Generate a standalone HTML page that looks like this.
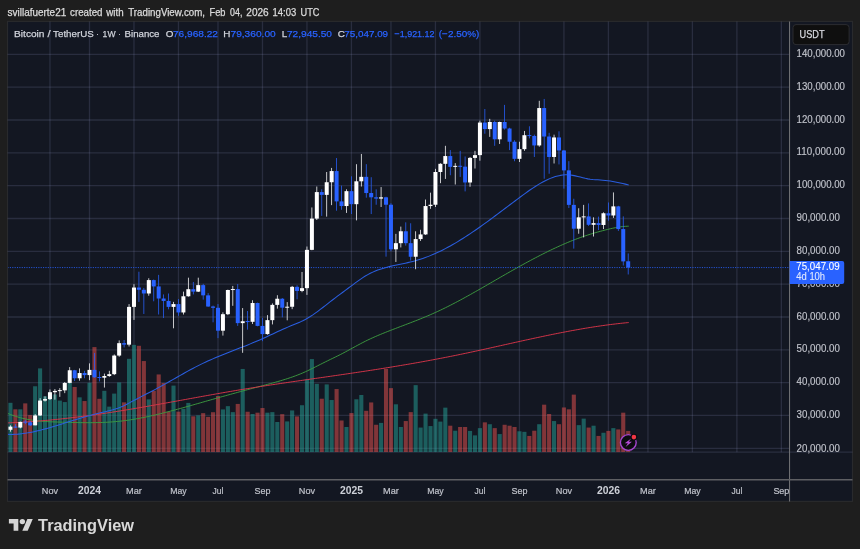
<!DOCTYPE html>
<html><head><meta charset="utf-8"><title>BTCUSDT</title>
<style>html,body{margin:0;padding:0;background:#1e1e1e;}body{width:860px;height:549px;overflow:hidden;font-family:"Liberation Sans",sans-serif;}</style></head>
<body>
<svg width="860" height="549" viewBox="0 0 860 549" style="display:block;will-change:transform;font-family:'Liberation Sans',sans-serif">
<rect x="0" y="0" width="860" height="549" fill="#1e1e1e"/>
<rect x="7.5" y="21.4" width="845.0" height="480.0" fill="#131722" stroke="#292a2d" stroke-width="1.15"/>
<g stroke="rgb(150,155,200)" stroke-opacity="0.175" stroke-width="1.3">
<line x1="49.96" y1="21.4" x2="49.96" y2="452.2"/>
<line x1="89.50" y1="21.4" x2="89.50" y2="452.2"/>
<line x1="133.98" y1="21.4" x2="133.98" y2="452.2"/>
<line x1="178.46" y1="21.4" x2="178.46" y2="452.2"/>
<line x1="217.99" y1="21.4" x2="217.99" y2="452.2"/>
<line x1="262.47" y1="21.4" x2="262.47" y2="452.2"/>
<line x1="306.95" y1="21.4" x2="306.95" y2="452.2"/>
<line x1="351.43" y1="21.4" x2="351.43" y2="452.2"/>
<line x1="390.96" y1="21.4" x2="390.96" y2="452.2"/>
<line x1="435.44" y1="21.4" x2="435.44" y2="452.2"/>
<line x1="479.92" y1="21.4" x2="479.92" y2="452.2"/>
<line x1="519.45" y1="21.4" x2="519.45" y2="452.2"/>
<line x1="563.93" y1="21.4" x2="563.93" y2="452.2"/>
<line x1="608.41" y1="21.4" x2="608.41" y2="452.2"/>
<line x1="647.95" y1="21.4" x2="647.95" y2="452.2"/>
<line x1="692.42" y1="21.4" x2="692.42" y2="452.2"/>
<line x1="736.90" y1="21.4" x2="736.90" y2="452.2"/>
<line x1="781.38" y1="21.4" x2="781.38" y2="452.2"/>
<line x1="7.5" y1="448.30" x2="789.7" y2="448.30"/>
<line x1="7.5" y1="415.47" x2="789.7" y2="415.47"/>
<line x1="7.5" y1="382.64" x2="789.7" y2="382.64"/>
<line x1="7.5" y1="349.81" x2="789.7" y2="349.81"/>
<line x1="7.5" y1="316.98" x2="789.7" y2="316.98"/>
<line x1="7.5" y1="284.15" x2="789.7" y2="284.15"/>
<line x1="7.5" y1="251.32" x2="789.7" y2="251.32"/>
<line x1="7.5" y1="218.49" x2="789.7" y2="218.49"/>
<line x1="7.5" y1="185.66" x2="789.7" y2="185.66"/>
<line x1="7.5" y1="152.83" x2="789.7" y2="152.83"/>
<line x1="7.5" y1="120.00" x2="789.7" y2="120.00"/>
<line x1="7.5" y1="87.17" x2="789.7" y2="87.17"/>
<line x1="7.5" y1="54.34" x2="789.7" y2="54.34"/>
<line x1="7.5" y1="452.2" x2="852.5" y2="452.2"/>
</g>
<clipPath id="cc"><rect x="8.1" y="22" width="781.6" height="430.2"/></clipPath>
<g clip-path="url(#cc)">
<g>
<rect x="8.38" y="402.81" width="4.1" height="49.29" fill="rgba(38,166,154,0.5)"/>
<rect x="13.32" y="409.33" width="4.1" height="42.77" fill="rgba(239,83,80,0.5)"/>
<rect x="18.26" y="409.33" width="4.1" height="42.77" fill="rgba(38,166,154,0.5)"/>
<rect x="23.20" y="403.37" width="4.1" height="48.73" fill="rgba(239,83,80,0.5)"/>
<rect x="28.15" y="415.09" width="4.1" height="37.01" fill="rgba(239,83,80,0.5)"/>
<rect x="33.09" y="386.26" width="4.1" height="65.84" fill="rgba(38,166,154,0.5)"/>
<rect x="38.03" y="368.40" width="4.1" height="83.70" fill="rgba(38,166,154,0.5)"/>
<rect x="42.97" y="396.30" width="4.1" height="55.80" fill="rgba(38,166,154,0.5)"/>
<rect x="47.91" y="396.86" width="4.1" height="55.24" fill="rgba(38,166,154,0.5)"/>
<rect x="52.86" y="394.44" width="4.1" height="57.66" fill="rgba(38,166,154,0.5)"/>
<rect x="57.80" y="400.58" width="4.1" height="51.52" fill="rgba(38,166,154,0.5)"/>
<rect x="62.74" y="402.07" width="4.1" height="50.03" fill="rgba(38,166,154,0.5)"/>
<rect x="67.68" y="382.91" width="4.1" height="69.19" fill="rgba(38,166,154,0.5)"/>
<rect x="72.62" y="387.00" width="4.1" height="65.10" fill="rgba(239,83,80,0.5)"/>
<rect x="77.57" y="397.33" width="4.1" height="54.77" fill="rgba(38,166,154,0.5)"/>
<rect x="82.51" y="401.05" width="4.1" height="51.05" fill="rgba(239,83,80,0.5)"/>
<rect x="87.45" y="382.81" width="4.1" height="69.29" fill="rgba(38,166,154,0.5)"/>
<rect x="92.39" y="347.09" width="4.1" height="105.01" fill="rgba(239,83,80,0.5)"/>
<rect x="97.33" y="398.81" width="4.1" height="53.29" fill="rgba(239,83,80,0.5)"/>
<rect x="102.28" y="390.81" width="4.1" height="61.29" fill="rgba(38,166,154,0.5)"/>
<rect x="107.22" y="406.63" width="4.1" height="45.47" fill="rgba(38,166,154,0.5)"/>
<rect x="112.16" y="393.60" width="4.1" height="58.50" fill="rgba(38,166,154,0.5)"/>
<rect x="117.10" y="382.44" width="4.1" height="69.66" fill="rgba(38,166,154,0.5)"/>
<rect x="122.04" y="402.35" width="4.1" height="49.75" fill="rgba(239,83,80,0.5)"/>
<rect x="126.99" y="358.81" width="4.1" height="93.29" fill="rgba(38,166,154,0.5)"/>
<rect x="131.93" y="344.86" width="4.1" height="107.24" fill="rgba(38,166,154,0.5)"/>
<rect x="136.87" y="345.79" width="4.1" height="106.31" fill="rgba(239,83,80,0.5)"/>
<rect x="141.81" y="361.05" width="4.1" height="91.05" fill="rgba(239,83,80,0.5)"/>
<rect x="146.75" y="399.37" width="4.1" height="52.73" fill="rgba(38,166,154,0.5)"/>
<rect x="151.70" y="390.81" width="4.1" height="61.29" fill="rgba(239,83,80,0.5)"/>
<rect x="156.64" y="374.44" width="4.1" height="77.66" fill="rgba(239,83,80,0.5)"/>
<rect x="161.58" y="383.00" width="4.1" height="69.10" fill="rgba(239,83,80,0.5)"/>
<rect x="166.52" y="411.65" width="4.1" height="40.45" fill="rgba(239,83,80,0.5)"/>
<rect x="171.46" y="385.60" width="4.1" height="66.50" fill="rgba(38,166,154,0.5)"/>
<rect x="176.41" y="411.65" width="4.1" height="40.45" fill="rgba(239,83,80,0.5)"/>
<rect x="181.35" y="408.86" width="4.1" height="43.24" fill="rgba(38,166,154,0.5)"/>
<rect x="186.29" y="402.91" width="4.1" height="49.19" fill="rgba(38,166,154,0.5)"/>
<rect x="191.23" y="416.30" width="4.1" height="35.80" fill="rgba(239,83,80,0.5)"/>
<rect x="196.17" y="415.37" width="4.1" height="36.73" fill="rgba(38,166,154,0.5)"/>
<rect x="201.12" y="413.14" width="4.1" height="38.96" fill="rgba(239,83,80,0.5)"/>
<rect x="206.06" y="416.86" width="4.1" height="35.24" fill="rgba(239,83,80,0.5)"/>
<rect x="211.00" y="412.21" width="4.1" height="39.89" fill="rgba(239,83,80,0.5)"/>
<rect x="215.94" y="396.02" width="4.1" height="56.08" fill="rgba(239,83,80,0.5)"/>
<rect x="220.88" y="409.42" width="4.1" height="42.68" fill="rgba(38,166,154,0.5)"/>
<rect x="225.83" y="406.16" width="4.1" height="45.94" fill="rgba(38,166,154,0.5)"/>
<rect x="230.77" y="412.12" width="4.1" height="39.98" fill="rgba(38,166,154,0.5)"/>
<rect x="235.71" y="403.93" width="4.1" height="48.17" fill="rgba(239,83,80,0.5)"/>
<rect x="240.65" y="368.95" width="4.1" height="83.15" fill="rgba(38,166,154,0.5)"/>
<rect x="245.59" y="411.74" width="4.1" height="40.36" fill="rgba(239,83,80,0.5)"/>
<rect x="250.54" y="413.98" width="4.1" height="38.12" fill="rgba(38,166,154,0.5)"/>
<rect x="255.48" y="412.67" width="4.1" height="39.43" fill="rgba(239,83,80,0.5)"/>
<rect x="260.42" y="408.02" width="4.1" height="44.08" fill="rgba(239,83,80,0.5)"/>
<rect x="265.36" y="412.67" width="4.1" height="39.43" fill="rgba(38,166,154,0.5)"/>
<rect x="270.30" y="412.12" width="4.1" height="39.98" fill="rgba(38,166,154,0.5)"/>
<rect x="275.25" y="421.98" width="4.1" height="30.12" fill="rgba(38,166,154,0.5)"/>
<rect x="280.19" y="414.16" width="4.1" height="37.94" fill="rgba(239,83,80,0.5)"/>
<rect x="285.13" y="421.42" width="4.1" height="30.68" fill="rgba(38,166,154,0.5)"/>
<rect x="290.07" y="410.44" width="4.1" height="41.66" fill="rgba(38,166,154,0.5)"/>
<rect x="295.01" y="416.40" width="4.1" height="35.70" fill="rgba(239,83,80,0.5)"/>
<rect x="299.96" y="405.23" width="4.1" height="46.87" fill="rgba(38,166,154,0.5)"/>
<rect x="304.90" y="379.19" width="4.1" height="72.91" fill="rgba(38,166,154,0.5)"/>
<rect x="309.84" y="359.09" width="4.1" height="93.01" fill="rgba(38,166,154,0.5)"/>
<rect x="314.78" y="383.84" width="4.1" height="68.26" fill="rgba(38,166,154,0.5)"/>
<rect x="319.72" y="398.72" width="4.1" height="53.38" fill="rgba(239,83,80,0.5)"/>
<rect x="324.67" y="384.40" width="4.1" height="67.70" fill="rgba(38,166,154,0.5)"/>
<rect x="329.61" y="400.02" width="4.1" height="52.08" fill="rgba(38,166,154,0.5)"/>
<rect x="334.55" y="389.05" width="4.1" height="63.05" fill="rgba(239,83,80,0.5)"/>
<rect x="339.49" y="420.49" width="4.1" height="31.61" fill="rgba(239,83,80,0.5)"/>
<rect x="344.43" y="427.00" width="4.1" height="25.10" fill="rgba(38,166,154,0.5)"/>
<rect x="349.38" y="413.05" width="4.1" height="39.05" fill="rgba(239,83,80,0.5)"/>
<rect x="354.32" y="399.28" width="4.1" height="52.82" fill="rgba(38,166,154,0.5)"/>
<rect x="359.26" y="395.00" width="4.1" height="57.10" fill="rgba(38,166,154,0.5)"/>
<rect x="364.20" y="410.81" width="4.1" height="41.29" fill="rgba(239,83,80,0.5)"/>
<rect x="369.14" y="402.44" width="4.1" height="49.66" fill="rgba(239,83,80,0.5)"/>
<rect x="374.09" y="424.77" width="4.1" height="27.33" fill="rgba(239,83,80,0.5)"/>
<rect x="379.03" y="422.91" width="4.1" height="29.19" fill="rgba(38,166,154,0.5)"/>
<rect x="383.97" y="368.95" width="4.1" height="83.15" fill="rgba(239,83,80,0.5)"/>
<rect x="388.91" y="388.12" width="4.1" height="63.98" fill="rgba(239,83,80,0.5)"/>
<rect x="393.85" y="404.30" width="4.1" height="47.80" fill="rgba(38,166,154,0.5)"/>
<rect x="398.80" y="427.00" width="4.1" height="25.10" fill="rgba(38,166,154,0.5)"/>
<rect x="403.74" y="421.05" width="4.1" height="31.05" fill="rgba(239,83,80,0.5)"/>
<rect x="408.68" y="412.12" width="4.1" height="39.98" fill="rgba(239,83,80,0.5)"/>
<rect x="413.62" y="385.14" width="4.1" height="66.96" fill="rgba(38,166,154,0.5)"/>
<rect x="418.56" y="427.56" width="4.1" height="24.54" fill="rgba(38,166,154,0.5)"/>
<rect x="423.51" y="413.60" width="4.1" height="38.50" fill="rgba(38,166,154,0.5)"/>
<rect x="428.45" y="426.07" width="4.1" height="26.03" fill="rgba(38,166,154,0.5)"/>
<rect x="433.39" y="418.81" width="4.1" height="33.29" fill="rgba(38,166,154,0.5)"/>
<rect x="438.33" y="421.60" width="4.1" height="30.50" fill="rgba(38,166,154,0.5)"/>
<rect x="443.27" y="407.65" width="4.1" height="44.45" fill="rgba(38,166,154,0.5)"/>
<rect x="448.22" y="425.70" width="4.1" height="26.40" fill="rgba(239,83,80,0.5)"/>
<rect x="453.16" y="430.72" width="4.1" height="21.38" fill="rgba(38,166,154,0.5)"/>
<rect x="458.10" y="427.00" width="4.1" height="25.10" fill="rgba(239,83,80,0.5)"/>
<rect x="463.04" y="427.00" width="4.1" height="25.10" fill="rgba(239,83,80,0.5)"/>
<rect x="467.98" y="430.91" width="4.1" height="21.19" fill="rgba(38,166,154,0.5)"/>
<rect x="472.93" y="435.37" width="4.1" height="16.73" fill="rgba(38,166,154,0.5)"/>
<rect x="477.87" y="428.12" width="4.1" height="23.98" fill="rgba(38,166,154,0.5)"/>
<rect x="482.81" y="422.35" width="4.1" height="29.75" fill="rgba(239,83,80,0.5)"/>
<rect x="487.75" y="424.21" width="4.1" height="27.89" fill="rgba(38,166,154,0.5)"/>
<rect x="492.69" y="428.12" width="4.1" height="23.98" fill="rgba(239,83,80,0.5)"/>
<rect x="497.64" y="434.07" width="4.1" height="18.03" fill="rgba(38,166,154,0.5)"/>
<rect x="502.58" y="424.77" width="4.1" height="27.33" fill="rgba(239,83,80,0.5)"/>
<rect x="507.52" y="425.70" width="4.1" height="26.40" fill="rgba(239,83,80,0.5)"/>
<rect x="512.46" y="427.00" width="4.1" height="25.10" fill="rgba(239,83,80,0.5)"/>
<rect x="517.40" y="431.28" width="4.1" height="20.82" fill="rgba(38,166,154,0.5)"/>
<rect x="522.35" y="431.84" width="4.1" height="20.26" fill="rgba(38,166,154,0.5)"/>
<rect x="527.29" y="435.93" width="4.1" height="16.17" fill="rgba(239,83,80,0.5)"/>
<rect x="532.23" y="430.72" width="4.1" height="21.38" fill="rgba(239,83,80,0.5)"/>
<rect x="537.17" y="424.21" width="4.1" height="27.89" fill="rgba(38,166,154,0.5)"/>
<rect x="542.11" y="404.67" width="4.1" height="47.43" fill="rgba(239,83,80,0.5)"/>
<rect x="547.06" y="413.98" width="4.1" height="38.12" fill="rgba(239,83,80,0.5)"/>
<rect x="552.00" y="421.05" width="4.1" height="31.05" fill="rgba(38,166,154,0.5)"/>
<rect x="556.94" y="424.21" width="4.1" height="27.89" fill="rgba(239,83,80,0.5)"/>
<rect x="561.88" y="407.47" width="4.1" height="44.63" fill="rgba(239,83,80,0.5)"/>
<rect x="566.82" y="409.33" width="4.1" height="42.77" fill="rgba(239,83,80,0.5)"/>
<rect x="571.77" y="394.63" width="4.1" height="57.47" fill="rgba(239,83,80,0.5)"/>
<rect x="576.71" y="425.14" width="4.1" height="26.96" fill="rgba(38,166,154,0.5)"/>
<rect x="581.65" y="418.63" width="4.1" height="33.47" fill="rgba(38,166,154,0.5)"/>
<rect x="586.59" y="427.56" width="4.1" height="24.54" fill="rgba(239,83,80,0.5)"/>
<rect x="591.53" y="425.70" width="4.1" height="26.40" fill="rgba(38,166,154,0.5)"/>
<rect x="596.48" y="435.93" width="4.1" height="16.17" fill="rgba(239,83,80,0.5)"/>
<rect x="601.42" y="432.77" width="4.1" height="19.33" fill="rgba(38,166,154,0.5)"/>
<rect x="606.36" y="430.91" width="4.1" height="21.19" fill="rgba(239,83,80,0.5)"/>
<rect x="611.30" y="428.12" width="4.1" height="23.98" fill="rgba(38,166,154,0.5)"/>
<rect x="616.24" y="429.42" width="4.1" height="22.68" fill="rgba(239,83,80,0.5)"/>
<rect x="621.19" y="412.67" width="4.1" height="39.43" fill="rgba(239,83,80,0.5)"/>
<rect x="626.13" y="430.91" width="4.1" height="21.19" fill="rgba(239,83,80,0.5)"/>
</g>
<path d="M7.8 413.40 L10.3 414.43 L12.8 415.38 L15.3 416.24 L17.8 417.01 L20.3 417.71 L22.8 418.34 L25.3 418.90 L27.8 419.40 L30.3 419.84 L32.8 420.23 L35.3 420.56 L37.8 420.85 L40.3 421.10 L42.8 421.31 L45.3 421.48 L47.8 421.64 L50.3 421.76 L52.8 421.87 L55.3 421.96 L57.8 422.05 L60.3 422.12 L62.8 422.20 L65.3 422.27 L67.8 422.35 L70.3 422.42 L72.8 422.48 L75.3 422.54 L77.8 422.59 L80.3 422.63 L82.8 422.66 L85.3 422.68 L87.8 422.69 L90.3 422.69 L92.8 422.67 L95.3 422.63 L97.8 422.58 L100.3 422.51 L102.8 422.42 L105.3 422.32 L107.8 422.19 L110.3 422.03 L112.8 421.85 L115.3 421.65 L117.8 421.42 L120.3 421.17 L122.8 420.88 L125.3 420.57 L127.8 420.22 L130.3 419.85 L132.8 419.46 L135.3 419.04 L137.8 418.59 L140.3 418.12 L142.8 417.63 L145.3 417.13 L147.8 416.60 L150.3 416.05 L152.8 415.49 L155.3 414.91 L157.8 414.31 L160.3 413.71 L162.8 413.09 L165.3 412.46 L167.8 411.82 L170.3 411.17 L172.8 410.51 L175.3 409.84 L177.8 409.16 L180.3 408.48 L182.8 407.80 L185.3 407.10 L187.8 406.40 L190.3 405.70 L192.8 404.99 L195.3 404.28 L197.8 403.57 L200.3 402.86 L202.8 402.14 L205.3 401.43 L207.8 400.71 L210.3 400.00 L212.8 399.29 L215.3 398.58 L217.8 397.87 L220.3 397.17 L222.8 396.46 L225.3 395.77 L227.8 395.07 L230.3 394.38 L232.8 393.69 L235.3 393.01 L237.8 392.32 L240.3 391.64 L242.8 390.96 L245.3 390.29 L247.8 389.62 L250.3 388.94 L252.8 388.27 L255.3 387.61 L257.8 386.94 L260.3 386.28 L262.8 385.61 L265.3 384.95 L267.8 384.29 L270.3 383.62 L272.8 382.94 L275.3 382.25 L277.8 381.54 L280.3 380.82 L282.8 380.07 L285.3 379.30 L287.8 378.50 L290.3 377.66 L292.8 376.80 L295.3 375.89 L297.8 374.94 L300.3 373.95 L302.8 372.91 L305.3 371.81 L307.8 370.66 L310.3 369.46 L312.8 368.23 L315.3 366.96 L317.8 365.69 L320.3 364.43 L322.8 363.17 L325.3 361.92 L327.8 360.69 L330.3 359.47 L332.8 358.27 L335.3 357.06 L337.8 355.84 L340.3 354.58 L342.8 353.29 L345.3 351.96 L347.8 350.62 L350.3 349.25 L352.8 347.88 L355.3 346.52 L357.8 345.16 L360.3 343.83 L362.8 342.52 L365.3 341.26 L367.8 340.03 L370.3 338.85 L372.8 337.71 L375.3 336.60 L377.8 335.52 L380.3 334.47 L382.8 333.45 L385.3 332.44 L387.8 331.45 L390.3 330.47 L392.8 329.51 L395.3 328.55 L397.8 327.59 L400.3 326.64 L402.8 325.69 L405.3 324.74 L407.8 323.79 L410.3 322.83 L412.8 321.86 L415.3 320.89 L417.8 319.91 L420.3 318.91 L422.8 317.89 L425.3 316.86 L427.8 315.82 L430.3 314.75 L432.8 313.65 L435.3 312.54 L437.8 311.39 L440.3 310.22 L442.8 309.02 L445.3 307.80 L447.8 306.56 L450.3 305.30 L452.8 304.01 L455.3 302.71 L457.8 301.39 L460.3 300.05 L462.8 298.69 L465.3 297.32 L467.8 295.94 L470.3 294.55 L472.8 293.14 L475.3 291.73 L477.8 290.31 L480.3 288.88 L482.8 287.44 L485.3 286.00 L487.8 284.56 L490.3 283.11 L492.8 281.67 L495.3 280.22 L497.8 278.77 L500.3 277.33 L502.8 275.89 L505.3 274.46 L507.8 273.03 L510.3 271.60 L512.8 270.19 L515.3 268.78 L517.8 267.38 L520.3 265.99 L522.8 264.61 L525.3 263.24 L527.8 261.88 L530.3 260.53 L532.8 259.20 L535.3 257.88 L537.8 256.58 L540.3 255.29 L542.8 254.02 L545.3 252.76 L547.8 251.53 L550.3 250.31 L552.8 249.12 L555.3 247.94 L557.8 246.79 L560.3 245.66 L562.8 244.55 L565.3 243.47 L567.8 242.41 L570.3 241.38 L572.8 240.38 L575.3 239.41 L577.8 238.47 L580.3 237.55 L582.8 236.67 L585.3 235.82 L587.8 235.00 L590.3 234.21 L592.8 233.45 L595.3 232.72 L597.8 232.01 L600.3 231.32 L602.8 230.65 L605.3 229.99 L607.8 229.36 L610.3 228.76 L612.8 228.21 L615.3 227.70 L617.8 227.25 L620.3 226.86 L622.8 226.55 L625.3 226.33 L627.8 226.21 L628.7 226.19" fill="none" stroke="#3d9a40" stroke-width="0.95" stroke-linejoin="round"/>
<path d="M7.8 422.92 L10.3 422.81 L12.8 422.69 L15.3 422.57 L17.8 422.44 L20.3 422.30 L22.8 422.15 L25.3 422.00 L27.8 421.83 L30.3 421.66 L32.8 421.48 L35.3 421.29 L37.8 421.10 L40.3 420.90 L42.8 420.69 L45.3 420.47 L47.8 420.25 L50.3 420.01 L52.8 419.77 L55.3 419.53 L57.8 419.28 L60.3 419.02 L62.8 418.75 L65.3 418.48 L67.8 418.20 L70.3 417.91 L72.8 417.61 L75.3 417.31 L77.8 417.01 L80.3 416.69 L82.8 416.38 L85.3 416.05 L87.8 415.72 L90.3 415.38 L92.8 415.04 L95.3 414.69 L97.8 414.33 L100.3 413.97 L102.8 413.60 L105.3 413.23 L107.8 412.85 L110.3 412.47 L112.8 412.09 L115.3 411.69 L117.8 411.30 L120.3 410.90 L122.8 410.49 L125.3 410.08 L127.8 409.67 L130.3 409.26 L132.8 408.84 L135.3 408.41 L137.8 407.99 L140.3 407.56 L142.8 407.13 L145.3 406.69 L147.8 406.25 L150.3 405.81 L152.8 405.37 L155.3 404.93 L157.8 404.48 L160.3 404.03 L162.8 403.58 L165.3 403.13 L167.8 402.68 L170.3 402.23 L172.8 401.78 L175.3 401.32 L177.8 400.87 L180.3 400.41 L182.8 399.95 L185.3 399.50 L187.8 399.04 L190.3 398.59 L192.8 398.13 L195.3 397.68 L197.8 397.22 L200.3 396.77 L202.8 396.32 L205.3 395.87 L207.8 395.42 L210.3 394.97 L212.8 394.53 L215.3 394.08 L217.8 393.64 L220.3 393.20 L222.8 392.76 L225.3 392.33 L227.8 391.90 L230.3 391.47 L232.8 391.04 L235.3 390.62 L237.8 390.20 L240.3 389.78 L242.8 389.37 L245.3 388.96 L247.8 388.55 L250.3 388.15 L252.8 387.75 L255.3 387.35 L257.8 386.96 L260.3 386.57 L262.8 386.18 L265.3 385.80 L267.8 385.42 L270.3 385.03 L272.8 384.66 L275.3 384.28 L277.8 383.91 L280.3 383.53 L282.8 383.16 L285.3 382.79 L287.8 382.43 L290.3 382.06 L292.8 381.70 L295.3 381.33 L297.8 380.97 L300.3 380.61 L302.8 380.25 L305.3 379.89 L307.8 379.53 L310.3 379.17 L312.8 378.81 L315.3 378.45 L317.8 378.10 L320.3 377.74 L322.8 377.38 L325.3 377.02 L327.8 376.66 L330.3 376.30 L332.8 375.94 L335.3 375.58 L337.8 375.22 L340.3 374.85 L342.8 374.49 L345.3 374.13 L347.8 373.76 L350.3 373.39 L352.8 373.02 L355.3 372.65 L357.8 372.28 L360.3 371.90 L362.8 371.53 L365.3 371.15 L367.8 370.77 L370.3 370.38 L372.8 370.00 L375.3 369.61 L377.8 369.22 L380.3 368.82 L382.8 368.43 L385.3 368.03 L387.8 367.62 L390.3 367.22 L392.8 366.81 L395.3 366.40 L397.8 365.99 L400.3 365.57 L402.8 365.15 L405.3 364.72 L407.8 364.30 L410.3 363.87 L412.8 363.43 L415.3 362.99 L417.8 362.55 L420.3 362.11 L422.8 361.66 L425.3 361.20 L427.8 360.75 L430.3 360.29 L432.8 359.82 L435.3 359.35 L437.8 358.88 L440.3 358.40 L442.8 357.92 L445.3 357.43 L447.8 356.94 L450.3 356.44 L452.8 355.94 L455.3 355.44 L457.8 354.93 L460.3 354.41 L462.8 353.89 L465.3 353.37 L467.8 352.84 L470.3 352.31 L472.8 351.77 L475.3 351.23 L477.8 350.69 L480.3 350.15 L482.8 349.60 L485.3 349.05 L487.8 348.50 L490.3 347.95 L492.8 347.39 L495.3 346.84 L497.8 346.28 L500.3 345.72 L502.8 345.17 L505.3 344.61 L507.8 344.05 L510.3 343.49 L512.8 342.94 L515.3 342.38 L517.8 341.83 L520.3 341.27 L522.8 340.72 L525.3 340.17 L527.8 339.63 L530.3 339.08 L532.8 338.54 L535.3 338.00 L537.8 337.47 L540.3 336.94 L542.8 336.41 L545.3 335.89 L547.8 335.37 L550.3 334.85 L552.8 334.34 L555.3 333.84 L557.8 333.34 L560.3 332.85 L562.8 332.36 L565.3 331.88 L567.8 331.40 L570.3 330.93 L572.8 330.47 L575.3 330.02 L577.8 329.57 L580.3 329.13 L582.8 328.70 L585.3 328.28 L587.8 327.87 L590.3 327.46 L592.8 327.07 L595.3 326.68 L597.8 326.30 L600.3 325.94 L602.8 325.58 L605.3 325.23 L607.8 324.90 L610.3 324.57 L612.8 324.26 L615.3 323.96 L617.8 323.67 L620.3 323.39 L622.8 323.12 L625.3 322.87 L627.8 322.63 L628.7 322.55" fill="none" stroke="#d9364a" stroke-width="0.95" stroke-linejoin="round"/>
<path d="M7.8 434.38 L10.3 434.41 L12.8 434.38 L15.3 434.27 L17.8 434.11 L20.3 433.88 L22.8 433.59 L25.3 433.24 L27.8 432.85 L30.3 432.40 L32.8 431.91 L35.3 431.38 L37.8 430.80 L40.3 430.20 L42.8 429.55 L45.3 428.88 L47.8 428.19 L50.3 427.47 L52.8 426.73 L55.3 425.97 L57.8 425.20 L60.3 424.42 L62.8 423.63 L65.3 422.84 L67.8 422.05 L70.3 421.26 L72.8 420.48 L75.3 419.70 L77.8 418.94 L80.3 418.20 L82.8 417.47 L85.3 416.76 L87.8 416.07 L90.3 415.39 L92.8 414.73 L95.3 414.08 L97.8 413.45 L100.3 412.83 L102.8 412.23 L105.3 411.64 L107.8 411.05 L110.3 410.43 L112.8 409.77 L115.3 409.05 L117.8 408.23 L120.3 407.30 L122.8 406.23 L125.3 405.03 L127.8 403.74 L130.3 402.40 L132.8 401.06 L135.3 399.73 L137.8 398.42 L140.3 397.13 L142.8 395.83 L145.3 394.55 L147.8 393.26 L150.3 391.97 L152.8 390.66 L155.3 389.35 L157.8 388.02 L160.3 386.66 L162.8 385.29 L165.3 383.90 L167.8 382.49 L170.3 381.07 L172.8 379.64 L175.3 378.21 L177.8 376.79 L180.3 375.36 L182.8 373.95 L185.3 372.55 L187.8 371.16 L190.3 369.80 L192.8 368.45 L195.3 367.14 L197.8 365.86 L200.3 364.61 L202.8 363.40 L205.3 362.23 L207.8 361.08 L210.3 359.97 L212.8 358.88 L215.3 357.81 L217.8 356.76 L220.3 355.73 L222.8 354.72 L225.3 353.72 L227.8 352.73 L230.3 351.75 L232.8 350.78 L235.3 349.80 L237.8 348.83 L240.3 347.86 L242.8 346.88 L245.3 345.89 L247.8 344.89 L250.3 343.88 L252.8 342.86 L255.3 341.82 L257.8 340.75 L260.3 339.67 L262.8 338.55 L265.3 337.42 L267.8 336.26 L270.3 335.09 L272.8 333.91 L275.3 332.74 L277.8 331.57 L280.3 330.42 L282.8 329.29 L285.3 328.19 L287.8 327.12 L290.3 326.09 L292.8 325.08 L295.3 324.06 L297.8 323.00 L300.3 321.90 L302.8 320.72 L305.3 319.44 L307.8 318.04 L310.3 316.51 L312.8 314.86 L315.3 313.12 L317.8 311.30 L320.3 309.42 L322.8 307.49 L325.3 305.54 L327.8 303.58 L330.3 301.63 L332.8 299.71 L335.3 297.81 L337.8 295.93 L340.3 294.07 L342.8 292.21 L345.3 290.36 L347.8 288.52 L350.3 286.67 L352.8 284.81 L355.3 282.95 L357.8 281.12 L360.3 279.33 L362.8 277.64 L365.3 276.06 L367.8 274.62 L370.3 273.31 L372.8 272.12 L375.3 271.04 L377.8 270.07 L380.3 269.19 L382.8 268.39 L385.3 267.66 L387.8 266.99 L390.3 266.37 L392.8 265.80 L395.3 265.25 L397.8 264.73 L400.3 264.21 L402.8 263.70 L405.3 263.18 L407.8 262.63 L410.3 262.06 L412.8 261.45 L415.3 260.79 L417.8 260.07 L420.3 259.29 L422.8 258.46 L425.3 257.57 L427.8 256.63 L430.3 255.63 L432.8 254.59 L435.3 253.49 L437.8 252.35 L440.3 251.16 L442.8 249.92 L445.3 248.63 L447.8 247.31 L450.3 245.94 L452.8 244.53 L455.3 243.08 L457.8 241.59 L460.3 240.06 L462.8 238.50 L465.3 236.90 L467.8 235.27 L470.3 233.61 L472.8 231.92 L475.3 230.21 L477.8 228.47 L480.3 226.71 L482.8 224.92 L485.3 223.12 L487.8 221.30 L490.3 219.47 L492.8 217.63 L495.3 215.77 L497.8 213.90 L500.3 212.03 L502.8 210.15 L505.3 208.27 L507.8 206.39 L510.3 204.50 L512.8 202.62 L515.3 200.75 L517.8 198.88 L520.3 197.02 L522.8 195.17 L525.3 193.34 L527.8 191.55 L530.3 189.79 L532.8 188.09 L535.3 186.45 L537.8 184.87 L540.3 183.38 L542.8 181.97 L545.3 180.66 L547.8 179.46 L550.3 178.37 L552.8 177.41 L555.3 176.59 L557.8 175.91 L560.3 175.39 L562.8 175.03 L565.3 174.84 L567.8 174.84 L570.3 175.03 L572.8 175.39 L575.3 175.88 L577.8 176.47 L580.3 177.10 L582.8 177.74 L585.3 178.35 L587.8 178.87 L590.3 179.28 L592.8 179.55 L595.3 179.72 L597.8 179.85 L600.3 179.99 L602.8 180.18 L605.3 180.43 L607.8 180.73 L610.3 181.09 L612.8 181.49 L615.3 181.93 L617.8 182.42 L620.3 182.95 L622.8 183.52 L625.3 184.13 L627.8 184.77 L628.7 185.01" fill="none" stroke="#2a5ee0" stroke-width="1.05" stroke-linejoin="round"/>
<line x1="7.5" y1="267.58" x2="789.7" y2="267.58" stroke="#2962ff" stroke-width="1" stroke-dasharray="1.1 1.27" opacity="0.85"/>
<g>
<rect x="10.05" y="425.33" width="0.76" height="6.33" fill="#ffffff"/>
<rect x="8.43" y="426.63" width="4.0" height="3.16" fill="#ffffff"/>
<rect x="14.99" y="424.21" width="0.76" height="3.72" fill="#2962ff"/>
<rect x="13.37" y="426.59" width="4.0" height="1.00" fill="#2962ff"/>
<rect x="19.93" y="421.60" width="0.76" height="6.70" fill="#ffffff"/>
<rect x="18.31" y="421.98" width="4.0" height="5.58" fill="#ffffff"/>
<rect x="24.87" y="419.74" width="0.76" height="4.47" fill="#2962ff"/>
<rect x="23.25" y="421.66" width="4.0" height="1.00" fill="#2962ff"/>
<rect x="29.82" y="421.05" width="0.76" height="5.02" fill="#2962ff"/>
<rect x="28.20" y="422.35" width="4.0" height="2.98" fill="#2962ff"/>
<rect x="34.76" y="414.16" width="0.76" height="11.16" fill="#ffffff"/>
<rect x="33.14" y="415.47" width="4.0" height="9.86" fill="#ffffff"/>
<rect x="39.70" y="398.16" width="0.76" height="17.86" fill="#ffffff"/>
<rect x="38.08" y="400.58" width="4.0" height="14.88" fill="#ffffff"/>
<rect x="44.64" y="396.30" width="0.76" height="5.21" fill="#ffffff"/>
<rect x="43.02" y="399.09" width="4.0" height="1.49" fill="#ffffff"/>
<rect x="49.58" y="389.42" width="0.76" height="10.60" fill="#ffffff"/>
<rect x="47.96" y="392.21" width="4.0" height="6.88" fill="#ffffff"/>
<rect x="54.53" y="389.05" width="0.76" height="10.60" fill="#ffffff"/>
<rect x="52.91" y="390.91" width="4.0" height="1.30" fill="#ffffff"/>
<rect x="59.47" y="388.12" width="0.76" height="8.74" fill="#ffffff"/>
<rect x="57.85" y="390.13" width="4.0" height="1.00" fill="#ffffff"/>
<rect x="64.41" y="381.98" width="0.76" height="11.16" fill="#ffffff"/>
<rect x="62.79" y="382.91" width="4.0" height="7.44" fill="#ffffff"/>
<rect x="69.35" y="367.09" width="0.76" height="16.19" fill="#ffffff"/>
<rect x="67.73" y="370.26" width="4.0" height="12.65" fill="#ffffff"/>
<rect x="74.29" y="369.88" width="0.76" height="11.16" fill="#2962ff"/>
<rect x="72.67" y="370.26" width="4.0" height="8.00" fill="#2962ff"/>
<rect x="79.24" y="368.40" width="0.76" height="12.28" fill="#ffffff"/>
<rect x="77.62" y="373.05" width="4.0" height="5.21" fill="#ffffff"/>
<rect x="84.18" y="370.81" width="0.76" height="7.44" fill="#2962ff"/>
<rect x="82.56" y="373.05" width="4.0" height="2.05" fill="#2962ff"/>
<rect x="89.12" y="363.37" width="0.76" height="16.74" fill="#ffffff"/>
<rect x="87.50" y="369.88" width="4.0" height="5.21" fill="#ffffff"/>
<rect x="94.06" y="352.95" width="0.76" height="24.74" fill="#2962ff"/>
<rect x="92.44" y="369.88" width="4.0" height="7.44" fill="#2962ff"/>
<rect x="99.00" y="371.37" width="0.76" height="10.05" fill="#2962ff"/>
<rect x="97.38" y="377.01" width="4.0" height="1.00" fill="#2962ff"/>
<rect x="103.95" y="373.60" width="0.76" height="13.95" fill="#ffffff"/>
<rect x="102.33" y="376.02" width="4.0" height="1.67" fill="#ffffff"/>
<rect x="108.89" y="370.81" width="0.76" height="5.95" fill="#ffffff"/>
<rect x="107.27" y="374.16" width="4.0" height="1.86" fill="#ffffff"/>
<rect x="113.83" y="354.44" width="0.76" height="20.65" fill="#ffffff"/>
<rect x="112.21" y="355.56" width="4.0" height="18.60" fill="#ffffff"/>
<rect x="118.77" y="340.37" width="0.76" height="16.37" fill="#ffffff"/>
<rect x="117.15" y="343.16" width="4.0" height="12.40" fill="#ffffff"/>
<rect x="123.71" y="340.00" width="0.76" height="7.44" fill="#2962ff"/>
<rect x="122.09" y="343.16" width="4.0" height="1.49" fill="#2962ff"/>
<rect x="128.66" y="304.09" width="0.76" height="42.42" fill="#ffffff"/>
<rect x="127.04" y="306.88" width="4.0" height="37.77" fill="#ffffff"/>
<rect x="133.60" y="284.19" width="0.76" height="35.72" fill="#ffffff"/>
<rect x="131.98" y="287.53" width="4.0" height="19.35" fill="#ffffff"/>
<rect x="138.54" y="271.72" width="0.76" height="30.14" fill="#2962ff"/>
<rect x="136.92" y="287.53" width="4.0" height="2.23" fill="#2962ff"/>
<rect x="143.48" y="287.91" width="0.76" height="26.05" fill="#2962ff"/>
<rect x="141.86" y="289.77" width="4.0" height="3.72" fill="#2962ff"/>
<rect x="148.42" y="278.23" width="0.76" height="17.49" fill="#ffffff"/>
<rect x="146.80" y="280.09" width="4.0" height="13.40" fill="#ffffff"/>
<rect x="153.37" y="279.53" width="0.76" height="21.77" fill="#2962ff"/>
<rect x="151.75" y="280.09" width="4.0" height="6.33" fill="#2962ff"/>
<rect x="158.31" y="274.88" width="0.76" height="39.63" fill="#2962ff"/>
<rect x="156.69" y="286.42" width="4.0" height="12.09" fill="#2962ff"/>
<rect x="163.25" y="294.42" width="0.76" height="23.63" fill="#2962ff"/>
<rect x="161.63" y="298.51" width="4.0" height="2.42" fill="#2962ff"/>
<rect x="168.19" y="293.49" width="0.76" height="15.81" fill="#2962ff"/>
<rect x="166.57" y="300.93" width="4.0" height="5.95" fill="#2962ff"/>
<rect x="173.13" y="301.86" width="0.76" height="26.42" fill="#ffffff"/>
<rect x="171.51" y="304.09" width="4.0" height="2.79" fill="#ffffff"/>
<rect x="178.08" y="299.07" width="0.76" height="16.74" fill="#2962ff"/>
<rect x="176.46" y="304.09" width="4.0" height="8.37" fill="#2962ff"/>
<rect x="183.02" y="291.63" width="0.76" height="22.88" fill="#ffffff"/>
<rect x="181.40" y="296.28" width="4.0" height="16.19" fill="#ffffff"/>
<rect x="187.96" y="277.67" width="0.76" height="18.98" fill="#ffffff"/>
<rect x="186.34" y="289.21" width="4.0" height="7.07" fill="#ffffff"/>
<rect x="192.90" y="281.95" width="0.76" height="12.47" fill="#2962ff"/>
<rect x="191.28" y="289.21" width="4.0" height="2.42" fill="#2962ff"/>
<rect x="197.84" y="277.67" width="0.76" height="14.33" fill="#ffffff"/>
<rect x="196.22" y="285.12" width="4.0" height="6.51" fill="#ffffff"/>
<rect x="202.79" y="283.81" width="0.76" height="15.81" fill="#2962ff"/>
<rect x="201.17" y="285.12" width="4.0" height="10.23" fill="#2962ff"/>
<rect x="207.73" y="293.12" width="0.76" height="13.77" fill="#2962ff"/>
<rect x="206.11" y="295.35" width="4.0" height="11.16" fill="#2962ff"/>
<rect x="212.67" y="305.58" width="0.76" height="16.74" fill="#2962ff"/>
<rect x="211.05" y="306.51" width="4.0" height="1.30" fill="#2962ff"/>
<rect x="217.61" y="304.09" width="0.76" height="34.05" fill="#2962ff"/>
<rect x="215.99" y="307.81" width="4.0" height="22.88" fill="#2962ff"/>
<rect x="222.55" y="312.33" width="0.76" height="23.26" fill="#ffffff"/>
<rect x="220.93" y="314.19" width="4.0" height="16.51" fill="#ffffff"/>
<rect x="227.50" y="289.63" width="0.76" height="25.49" fill="#ffffff"/>
<rect x="225.88" y="290.00" width="4.0" height="24.19" fill="#ffffff"/>
<rect x="232.44" y="285.91" width="0.76" height="19.91" fill="#ffffff"/>
<rect x="230.82" y="289.03" width="4.0" height="1.00" fill="#ffffff"/>
<rect x="237.38" y="284.05" width="0.76" height="41.86" fill="#2962ff"/>
<rect x="235.76" y="289.07" width="4.0" height="34.05" fill="#2962ff"/>
<rect x="242.32" y="308.05" width="0.76" height="44.76" fill="#ffffff"/>
<rect x="240.70" y="321.26" width="4.0" height="1.86" fill="#ffffff"/>
<rect x="247.26" y="311.02" width="0.76" height="18.60" fill="#2962ff"/>
<rect x="245.64" y="321.03" width="4.0" height="1.00" fill="#2962ff"/>
<rect x="252.21" y="300.23" width="0.76" height="23.81" fill="#ffffff"/>
<rect x="250.59" y="303.02" width="4.0" height="18.79" fill="#ffffff"/>
<rect x="257.15" y="302.65" width="0.76" height="23.63" fill="#2962ff"/>
<rect x="255.53" y="303.02" width="4.0" height="22.88" fill="#2962ff"/>
<rect x="262.09" y="317.91" width="0.76" height="23.26" fill="#2962ff"/>
<rect x="260.47" y="325.91" width="4.0" height="8.19" fill="#2962ff"/>
<rect x="267.03" y="315.12" width="0.76" height="19.53" fill="#ffffff"/>
<rect x="265.41" y="320.14" width="4.0" height="13.95" fill="#ffffff"/>
<rect x="271.97" y="303.40" width="0.76" height="21.02" fill="#ffffff"/>
<rect x="270.35" y="304.88" width="4.0" height="15.26" fill="#ffffff"/>
<rect x="276.92" y="295.21" width="0.76" height="13.40" fill="#ffffff"/>
<rect x="275.30" y="298.74" width="4.0" height="6.14" fill="#ffffff"/>
<rect x="281.86" y="298.00" width="0.76" height="19.35" fill="#2962ff"/>
<rect x="280.24" y="298.74" width="4.0" height="8.93" fill="#2962ff"/>
<rect x="286.80" y="302.09" width="0.76" height="18.23" fill="#ffffff"/>
<rect x="285.18" y="306.71" width="4.0" height="1.00" fill="#ffffff"/>
<rect x="291.74" y="285.91" width="0.76" height="23.26" fill="#ffffff"/>
<rect x="290.12" y="286.84" width="4.0" height="19.91" fill="#ffffff"/>
<rect x="296.68" y="285.35" width="0.76" height="13.95" fill="#2962ff"/>
<rect x="295.06" y="286.84" width="4.0" height="4.09" fill="#2962ff"/>
<rect x="301.63" y="271.95" width="0.76" height="20.28" fill="#ffffff"/>
<rect x="300.01" y="288.14" width="4.0" height="2.79" fill="#ffffff"/>
<rect x="306.57" y="246.51" width="0.76" height="48.37" fill="#ffffff"/>
<rect x="304.95" y="249.86" width="4.0" height="38.28" fill="#ffffff"/>
<rect x="311.51" y="207.44" width="0.76" height="42.79" fill="#ffffff"/>
<rect x="309.89" y="218.60" width="4.0" height="31.26" fill="#ffffff"/>
<rect x="316.45" y="186.51" width="0.76" height="33.49" fill="#ffffff"/>
<rect x="314.83" y="192.09" width="4.0" height="26.51" fill="#ffffff"/>
<rect x="321.39" y="189.30" width="0.76" height="26.60" fill="#2962ff"/>
<rect x="319.77" y="192.09" width="4.0" height="2.79" fill="#2962ff"/>
<rect x="326.34" y="172.00" width="0.76" height="44.65" fill="#ffffff"/>
<rect x="324.72" y="182.23" width="4.0" height="12.65" fill="#ffffff"/>
<rect x="331.28" y="167.91" width="0.76" height="37.21" fill="#ffffff"/>
<rect x="329.66" y="171.07" width="4.0" height="11.16" fill="#ffffff"/>
<rect x="336.22" y="158.05" width="0.76" height="52.65" fill="#2962ff"/>
<rect x="334.60" y="171.07" width="4.0" height="30.33" fill="#2962ff"/>
<rect x="341.16" y="185.58" width="0.76" height="24.19" fill="#2962ff"/>
<rect x="339.54" y="201.40" width="4.0" height="4.65" fill="#2962ff"/>
<rect x="346.10" y="189.30" width="0.76" height="23.63" fill="#ffffff"/>
<rect x="344.48" y="191.16" width="4.0" height="14.88" fill="#ffffff"/>
<rect x="351.05" y="176.28" width="0.76" height="37.77" fill="#2962ff"/>
<rect x="349.43" y="191.16" width="4.0" height="13.02" fill="#2962ff"/>
<rect x="355.99" y="164.19" width="0.76" height="56.19" fill="#ffffff"/>
<rect x="354.37" y="181.30" width="4.0" height="22.88" fill="#ffffff"/>
<rect x="360.93" y="153.95" width="0.76" height="32.56" fill="#ffffff"/>
<rect x="359.31" y="176.84" width="4.0" height="4.47" fill="#ffffff"/>
<rect x="365.87" y="164.19" width="0.76" height="33.49" fill="#2962ff"/>
<rect x="364.25" y="176.84" width="4.0" height="16.19" fill="#2962ff"/>
<rect x="370.81" y="177.21" width="0.76" height="36.84" fill="#2962ff"/>
<rect x="369.19" y="193.02" width="4.0" height="4.28" fill="#2962ff"/>
<rect x="375.76" y="189.30" width="0.76" height="15.44" fill="#2962ff"/>
<rect x="374.14" y="197.30" width="4.0" height="1.30" fill="#2962ff"/>
<rect x="380.70" y="187.07" width="0.76" height="19.91" fill="#ffffff"/>
<rect x="379.08" y="197.30" width="4.0" height="1.30" fill="#ffffff"/>
<rect x="385.64" y="196.74" width="0.76" height="59.91" fill="#2962ff"/>
<rect x="384.02" y="197.30" width="4.0" height="7.44" fill="#2962ff"/>
<rect x="390.58" y="203.27" width="0.76" height="47.89" fill="#2962ff"/>
<rect x="388.96" y="204.74" width="4.0" height="44.56" fill="#2962ff"/>
<rect x="395.52" y="233.86" width="0.76" height="28.09" fill="#ffffff"/>
<rect x="393.90" y="243.16" width="4.0" height="6.14" fill="#ffffff"/>
<rect x="400.47" y="226.60" width="0.76" height="20.84" fill="#ffffff"/>
<rect x="398.85" y="231.26" width="4.0" height="11.91" fill="#ffffff"/>
<rect x="405.41" y="222.33" width="0.76" height="23.26" fill="#2962ff"/>
<rect x="403.79" y="231.26" width="4.0" height="11.91" fill="#2962ff"/>
<rect x="410.35" y="223.26" width="0.76" height="37.21" fill="#2962ff"/>
<rect x="408.73" y="243.16" width="4.0" height="13.58" fill="#2962ff"/>
<rect x="415.29" y="231.26" width="0.76" height="37.95" fill="#ffffff"/>
<rect x="413.67" y="239.07" width="4.0" height="17.67" fill="#ffffff"/>
<rect x="420.23" y="229.77" width="0.76" height="11.16" fill="#ffffff"/>
<rect x="418.61" y="234.42" width="4.0" height="4.65" fill="#ffffff"/>
<rect x="425.18" y="199.53" width="0.76" height="35.35" fill="#ffffff"/>
<rect x="423.56" y="206.05" width="4.0" height="28.37" fill="#ffffff"/>
<rect x="430.12" y="192.65" width="0.76" height="16.19" fill="#ffffff"/>
<rect x="428.50" y="204.74" width="4.0" height="1.30" fill="#ffffff"/>
<rect x="435.06" y="168.84" width="0.76" height="38.14" fill="#ffffff"/>
<rect x="433.44" y="172.00" width="4.0" height="32.74" fill="#ffffff"/>
<rect x="440.00" y="163.26" width="0.76" height="19.91" fill="#ffffff"/>
<rect x="438.38" y="163.81" width="4.0" height="8.19" fill="#ffffff"/>
<rect x="444.94" y="145.81" width="0.76" height="33.12" fill="#ffffff"/>
<rect x="443.32" y="156.05" width="4.0" height="7.77" fill="#ffffff"/>
<rect x="449.89" y="150.09" width="0.76" height="25.12" fill="#2962ff"/>
<rect x="448.27" y="156.05" width="4.0" height="10.79" fill="#2962ff"/>
<rect x="454.83" y="163.12" width="0.76" height="21.40" fill="#ffffff"/>
<rect x="453.21" y="165.87" width="4.0" height="1.00" fill="#ffffff"/>
<rect x="459.77" y="150.84" width="0.76" height="26.05" fill="#2962ff"/>
<rect x="458.15" y="165.78" width="4.0" height="1.00" fill="#2962ff"/>
<rect x="464.71" y="156.42" width="0.76" height="34.98" fill="#2962ff"/>
<rect x="463.09" y="166.65" width="4.0" height="15.81" fill="#2962ff"/>
<rect x="469.65" y="156.98" width="0.76" height="29.77" fill="#ffffff"/>
<rect x="468.03" y="157.91" width="4.0" height="24.56" fill="#ffffff"/>
<rect x="474.60" y="150.84" width="0.76" height="17.67" fill="#ffffff"/>
<rect x="472.98" y="155.12" width="4.0" height="2.79" fill="#ffffff"/>
<rect x="479.54" y="120.70" width="0.76" height="40.00" fill="#ffffff"/>
<rect x="477.92" y="122.56" width="4.0" height="32.56" fill="#ffffff"/>
<rect x="484.48" y="108.98" width="0.76" height="24.74" fill="#2962ff"/>
<rect x="482.86" y="122.56" width="4.0" height="6.51" fill="#2962ff"/>
<rect x="489.42" y="118.84" width="0.76" height="18.05" fill="#ffffff"/>
<rect x="487.80" y="122.00" width="4.0" height="7.07" fill="#ffffff"/>
<rect x="494.36" y="120.70" width="0.76" height="25.12" fill="#2962ff"/>
<rect x="492.74" y="122.00" width="4.0" height="17.30" fill="#2962ff"/>
<rect x="499.31" y="121.63" width="0.76" height="22.33" fill="#ffffff"/>
<rect x="497.69" y="122.00" width="4.0" height="17.30" fill="#ffffff"/>
<rect x="504.25" y="104.88" width="0.76" height="24.74" fill="#2962ff"/>
<rect x="502.63" y="122.00" width="4.0" height="6.51" fill="#2962ff"/>
<rect x="509.19" y="127.77" width="0.76" height="22.33" fill="#2962ff"/>
<rect x="507.57" y="128.51" width="4.0" height="13.21" fill="#2962ff"/>
<rect x="514.13" y="140.23" width="0.76" height="21.02" fill="#2962ff"/>
<rect x="512.51" y="141.72" width="4.0" height="17.12" fill="#2962ff"/>
<rect x="519.07" y="141.72" width="0.76" height="20.28" fill="#ffffff"/>
<rect x="517.45" y="149.16" width="4.0" height="9.67" fill="#ffffff"/>
<rect x="524.02" y="130.93" width="0.76" height="19.91" fill="#ffffff"/>
<rect x="522.40" y="135.21" width="4.0" height="13.95" fill="#ffffff"/>
<rect x="528.96" y="126.28" width="0.76" height="12.09" fill="#2962ff"/>
<rect x="527.34" y="135.08" width="4.0" height="1.00" fill="#2962ff"/>
<rect x="533.90" y="134.65" width="0.76" height="22.33" fill="#2962ff"/>
<rect x="532.28" y="135.95" width="4.0" height="9.49" fill="#2962ff"/>
<rect x="538.84" y="100.79" width="0.76" height="45.95" fill="#ffffff"/>
<rect x="537.22" y="108.05" width="4.0" height="37.40" fill="#ffffff"/>
<rect x="543.78" y="98.93" width="0.76" height="79.81" fill="#2962ff"/>
<rect x="542.16" y="108.05" width="4.0" height="28.47" fill="#2962ff"/>
<rect x="548.73" y="132.79" width="0.76" height="40.93" fill="#2962ff"/>
<rect x="547.11" y="136.51" width="4.0" height="20.47" fill="#2962ff"/>
<rect x="553.67" y="134.65" width="0.76" height="28.84" fill="#ffffff"/>
<rect x="552.05" y="137.44" width="4.0" height="19.53" fill="#ffffff"/>
<rect x="558.61" y="131.30" width="0.76" height="33.12" fill="#2962ff"/>
<rect x="556.99" y="137.44" width="4.0" height="13.02" fill="#2962ff"/>
<rect x="563.55" y="149.91" width="0.76" height="38.70" fill="#2962ff"/>
<rect x="561.93" y="150.47" width="4.0" height="19.91" fill="#2962ff"/>
<rect x="568.49" y="161.16" width="0.76" height="46.88" fill="#2962ff"/>
<rect x="566.87" y="170.37" width="4.0" height="34.51" fill="#2962ff"/>
<rect x="573.44" y="198.74" width="0.76" height="49.86" fill="#2962ff"/>
<rect x="571.82" y="204.88" width="4.0" height="23.81" fill="#2962ff"/>
<rect x="578.38" y="208.23" width="0.76" height="25.49" fill="#ffffff"/>
<rect x="576.76" y="217.35" width="4.0" height="11.35" fill="#ffffff"/>
<rect x="583.32" y="204.88" width="0.76" height="32.56" fill="#ffffff"/>
<rect x="581.70" y="216.38" width="4.0" height="1.00" fill="#ffffff"/>
<rect x="588.26" y="203.40" width="0.76" height="22.51" fill="#2962ff"/>
<rect x="586.64" y="216.42" width="4.0" height="8.37" fill="#2962ff"/>
<rect x="593.20" y="217.35" width="0.76" height="19.16" fill="#ffffff"/>
<rect x="591.58" y="223.12" width="4.0" height="1.67" fill="#ffffff"/>
<rect x="598.15" y="216.60" width="0.76" height="13.40" fill="#2962ff"/>
<rect x="596.53" y="223.12" width="4.0" height="1.86" fill="#2962ff"/>
<rect x="603.09" y="212.33" width="0.76" height="16.74" fill="#ffffff"/>
<rect x="601.47" y="213.26" width="4.0" height="11.72" fill="#ffffff"/>
<rect x="608.03" y="202.47" width="0.76" height="18.23" fill="#2962ff"/>
<rect x="606.41" y="213.26" width="4.0" height="2.23" fill="#2962ff"/>
<rect x="612.97" y="192.42" width="0.76" height="25.49" fill="#ffffff"/>
<rect x="611.35" y="206.37" width="4.0" height="9.12" fill="#ffffff"/>
<rect x="617.91" y="205.81" width="0.76" height="25.12" fill="#2962ff"/>
<rect x="616.29" y="206.37" width="4.0" height="22.70" fill="#2962ff"/>
<rect x="622.86" y="216.37" width="0.76" height="49.12" fill="#2962ff"/>
<rect x="621.24" y="229.07" width="4.0" height="32.33" fill="#2962ff"/>
<rect x="627.80" y="253.42" width="0.76" height="21.06" fill="#2962ff"/>
<rect x="626.18" y="261.27" width="4.0" height="6.31" fill="#2962ff"/>
</g>
</g>
<circle cx="628.3" cy="442.5" r="7.9" fill="#0c0c10" stroke="#a646cf" stroke-width="1.4"/>
<circle cx="633.9" cy="437.1" r="3.4" fill="#0c0c10"/>
<circle cx="633.9" cy="437.1" r="2.3" fill="#f23645"/>
<path d="M631.20 438.40 L624.70 443.20 L627.90 443.20 L625.60 446.90 L631.90 441.80 L628.70 441.80 Z" fill="#b44ad6"/>
<line x1="789.5500000000001" y1="21.4" x2="789.5500000000001" y2="501.4" stroke="#707174" stroke-width="1.05"/>
<line x1="7.5" y1="479.75" x2="852.5" y2="479.75" stroke="#5e5f63" stroke-width="1.3"/>
<clipPath id="tc"><rect x="7.5" y="479.6" width="781.7" height="21.8"/></clipPath>
<g clip-path="url(#tc)">
<text x="41.81" y="494.00" font-size="9.8" fill="#c0c3cb" textLength="16.30" lengthAdjust="spacingAndGlyphs" stroke="#c0c3cb" stroke-width="0.2">Nov</text>
<text x="78.00" y="494.00" font-size="10.2" fill="#cdd0d8" font-weight="bold" textLength="23.00" lengthAdjust="spacingAndGlyphs">2024</text>
<text x="126.08" y="494.00" font-size="9.8" fill="#c0c3cb" textLength="15.80" lengthAdjust="spacingAndGlyphs" stroke="#c0c3cb" stroke-width="0.2">Mar</text>
<text x="170.21" y="494.00" font-size="9.8" fill="#c0c3cb" textLength="16.50" lengthAdjust="spacingAndGlyphs" stroke="#c0c3cb" stroke-width="0.2">May</text>
<text x="212.59" y="494.00" font-size="9.8" fill="#c0c3cb" textLength="10.80" lengthAdjust="spacingAndGlyphs" stroke="#c0c3cb" stroke-width="0.2">Jul</text>
<text x="254.47" y="494.00" font-size="9.8" fill="#c0c3cb" textLength="16.00" lengthAdjust="spacingAndGlyphs" stroke="#c0c3cb" stroke-width="0.2">Sep</text>
<text x="298.80" y="494.00" font-size="9.8" fill="#c0c3cb" textLength="16.30" lengthAdjust="spacingAndGlyphs" stroke="#c0c3cb" stroke-width="0.2">Nov</text>
<text x="339.93" y="494.00" font-size="10.2" fill="#cdd0d8" font-weight="bold" textLength="23.00" lengthAdjust="spacingAndGlyphs">2025</text>
<text x="383.06" y="494.00" font-size="9.8" fill="#c0c3cb" textLength="15.80" lengthAdjust="spacingAndGlyphs" stroke="#c0c3cb" stroke-width="0.2">Mar</text>
<text x="427.19" y="494.00" font-size="9.8" fill="#c0c3cb" textLength="16.50" lengthAdjust="spacingAndGlyphs" stroke="#c0c3cb" stroke-width="0.2">May</text>
<text x="474.52" y="494.00" font-size="9.8" fill="#c0c3cb" textLength="10.80" lengthAdjust="spacingAndGlyphs" stroke="#c0c3cb" stroke-width="0.2">Jul</text>
<text x="511.45" y="494.00" font-size="9.8" fill="#c0c3cb" textLength="16.00" lengthAdjust="spacingAndGlyphs" stroke="#c0c3cb" stroke-width="0.2">Sep</text>
<text x="555.78" y="494.00" font-size="9.8" fill="#c0c3cb" textLength="16.30" lengthAdjust="spacingAndGlyphs" stroke="#c0c3cb" stroke-width="0.2">Nov</text>
<text x="596.91" y="494.00" font-size="10.2" fill="#cdd0d8" font-weight="bold" textLength="23.00" lengthAdjust="spacingAndGlyphs">2026</text>
<text x="640.05" y="494.00" font-size="9.8" fill="#c0c3cb" textLength="15.80" lengthAdjust="spacingAndGlyphs" stroke="#c0c3cb" stroke-width="0.2">Mar</text>
<text x="684.17" y="494.00" font-size="9.8" fill="#c0c3cb" textLength="16.50" lengthAdjust="spacingAndGlyphs" stroke="#c0c3cb" stroke-width="0.2">May</text>
<text x="731.50" y="494.00" font-size="9.8" fill="#c0c3cb" textLength="10.80" lengthAdjust="spacingAndGlyphs" stroke="#c0c3cb" stroke-width="0.2">Jul</text>
<text x="773.38" y="494.00" font-size="9.8" fill="#c0c3cb" textLength="16.00" lengthAdjust="spacingAndGlyphs" stroke="#c0c3cb" stroke-width="0.2">Sep</text>
</g>
<text x="796.60" y="451.70" font-size="10.1" fill="#c0c3cb" textLength="43.30" lengthAdjust="spacingAndGlyphs" stroke="#c0c3cb" stroke-width="0.15">20,000.00</text>
<text x="796.60" y="418.07" font-size="10.1" fill="#c0c3cb" textLength="43.30" lengthAdjust="spacingAndGlyphs" stroke="#c0c3cb" stroke-width="0.15">30,000.00</text>
<text x="796.60" y="385.24" font-size="10.1" fill="#c0c3cb" textLength="43.30" lengthAdjust="spacingAndGlyphs" stroke="#c0c3cb" stroke-width="0.15">40,000.00</text>
<text x="796.60" y="352.41" font-size="10.1" fill="#c0c3cb" textLength="43.30" lengthAdjust="spacingAndGlyphs" stroke="#c0c3cb" stroke-width="0.15">50,000.00</text>
<text x="796.60" y="319.58" font-size="10.1" fill="#c0c3cb" textLength="43.30" lengthAdjust="spacingAndGlyphs" stroke="#c0c3cb" stroke-width="0.15">60,000.00</text>
<text x="796.60" y="286.75" font-size="10.1" fill="#c0c3cb" textLength="43.30" lengthAdjust="spacingAndGlyphs" stroke="#c0c3cb" stroke-width="0.15">70,000.00</text>
<text x="796.60" y="253.92" font-size="10.1" fill="#c0c3cb" textLength="43.30" lengthAdjust="spacingAndGlyphs" stroke="#c0c3cb" stroke-width="0.15">80,000.00</text>
<text x="796.60" y="221.09" font-size="10.1" fill="#c0c3cb" textLength="43.30" lengthAdjust="spacingAndGlyphs" stroke="#c0c3cb" stroke-width="0.15">90,000.00</text>
<text x="796.60" y="188.26" font-size="10.1" fill="#c0c3cb" textLength="48.40" lengthAdjust="spacingAndGlyphs" stroke="#c0c3cb" stroke-width="0.15">100,000.00</text>
<text x="796.60" y="155.43" font-size="10.1" fill="#c0c3cb" textLength="48.40" lengthAdjust="spacingAndGlyphs" stroke="#c0c3cb" stroke-width="0.15">110,000.00</text>
<text x="796.60" y="122.60" font-size="10.1" fill="#c0c3cb" textLength="48.40" lengthAdjust="spacingAndGlyphs" stroke="#c0c3cb" stroke-width="0.15">120,000.00</text>
<text x="796.60" y="89.77" font-size="10.1" fill="#c0c3cb" textLength="48.40" lengthAdjust="spacingAndGlyphs" stroke="#c0c3cb" stroke-width="0.15">130,000.00</text>
<text x="796.60" y="56.94" font-size="10.1" fill="#c0c3cb" textLength="48.40" lengthAdjust="spacingAndGlyphs" stroke="#c0c3cb" stroke-width="0.15">140,000.00</text>
<path d="M789.7 261.1 H842.2 a2 2 0 0 1 2 2 V282 a2 2 0 0 1 -2 2 H789.7 Z" fill="#2962ff"/>
<text x="796.30" y="269.70" font-size="10" fill="#ffffff" textLength="43.30" lengthAdjust="spacingAndGlyphs" stroke="#ffffff" stroke-width="0.1">75,047.09</text>
<text x="796.30" y="279.80" font-size="10" fill="#ffffff" textLength="28.80" lengthAdjust="spacingAndGlyphs" opacity="0.85" stroke="#ffffff" stroke-width="0.1">4d 10h</text>
<rect x="793.0" y="24.6" width="56.1" height="20.0" rx="3" fill="#0f0f0f" stroke="#2c2d31" stroke-width="1"/>
<text x="799.60" y="38.00" font-size="10.3" fill="#d6d8de" textLength="25.00" lengthAdjust="spacingAndGlyphs" stroke="#d6d8de" stroke-width="0.25">USDT</text>
<text x="7.60" y="16.00" font-size="10" fill="#dcdcdc" textLength="58.60" lengthAdjust="spacingAndGlyphs" stroke="#dcdcdc" stroke-width="0.25">svillafuerte21</text>
<text x="70.10" y="16.00" font-size="10" fill="#dcdcdc" textLength="32.40" lengthAdjust="spacingAndGlyphs" stroke="#dcdcdc" stroke-width="0.25">created</text>
<text x="106.30" y="16.00" font-size="10" fill="#dcdcdc" textLength="17.40" lengthAdjust="spacingAndGlyphs" stroke="#dcdcdc" stroke-width="0.25">with</text>
<text x="128.30" y="16.00" font-size="10" fill="#dcdcdc" textLength="76.70" lengthAdjust="spacingAndGlyphs" stroke="#dcdcdc" stroke-width="0.25">TradingView.com,</text>
<text x="209.60" y="16.00" font-size="10" fill="#dcdcdc" textLength="15.90" lengthAdjust="spacingAndGlyphs" stroke="#dcdcdc" stroke-width="0.25">Feb</text>
<text x="230.10" y="16.00" font-size="10" fill="#dcdcdc" textLength="12.30" lengthAdjust="spacingAndGlyphs" stroke="#dcdcdc" stroke-width="0.25">04,</text>
<text x="246.30" y="16.00" font-size="10" fill="#dcdcdc" textLength="22.40" lengthAdjust="spacingAndGlyphs" stroke="#dcdcdc" stroke-width="0.25">2026</text>
<text x="272.60" y="16.00" font-size="10" fill="#dcdcdc" textLength="23.60" lengthAdjust="spacingAndGlyphs" stroke="#dcdcdc" stroke-width="0.25">14:03</text>
<text x="300.60" y="16.00" font-size="10" fill="#dcdcdc" textLength="18.90" lengthAdjust="spacingAndGlyphs" stroke="#dcdcdc" stroke-width="0.25">UTC</text>
<text x="14.10" y="37.00" font-size="9.9" fill="#d1d4dc" textLength="30.40" lengthAdjust="spacingAndGlyphs" stroke="#d1d4dc" stroke-width="0.25">Bitcoin</text>
<text x="47.60" y="37.00" font-size="9.9" fill="#d1d4dc" textLength="3.10" lengthAdjust="spacingAndGlyphs" stroke="#d1d4dc" stroke-width="0.25">/</text>
<text x="53.10" y="37.00" font-size="9.9" fill="#d1d4dc" textLength="40.60" lengthAdjust="spacingAndGlyphs" stroke="#d1d4dc" stroke-width="0.25">TetherUS</text>
<text x="96.60" y="37.00" font-size="9.9" fill="#d1d4dc" textLength="2.20" lengthAdjust="spacingAndGlyphs" stroke="#d1d4dc" stroke-width="0.25">·</text>
<text x="102.60" y="37.00" font-size="9.9" fill="#d1d4dc" textLength="12.90" lengthAdjust="spacingAndGlyphs" stroke="#d1d4dc" stroke-width="0.25">1W</text>
<text x="118.60" y="37.00" font-size="9.9" fill="#d1d4dc" textLength="2.20" lengthAdjust="spacingAndGlyphs" stroke="#d1d4dc" stroke-width="0.25">·</text>
<text x="124.60" y="37.00" font-size="9.9" fill="#d1d4dc" textLength="34.90" lengthAdjust="spacingAndGlyphs" stroke="#d1d4dc" stroke-width="0.25">Binance</text>
<text x="165.80" y="37.00" font-size="9.9" fill="#d1d4dc" stroke="#d1d4dc" stroke-width="0.25">O</text>
<text x="173.00" y="37.00" font-size="9.9" fill="#2962ff" textLength="45.00" lengthAdjust="spacingAndGlyphs" stroke="#2962ff" stroke-width="0.25">76,968.22</text>
<text x="223.30" y="37.00" font-size="9.9" fill="#d1d4dc" stroke="#d1d4dc" stroke-width="0.25">H</text>
<text x="230.50" y="37.00" font-size="9.9" fill="#2962ff" textLength="45.20" lengthAdjust="spacingAndGlyphs" stroke="#2962ff" stroke-width="0.25">79,360.00</text>
<text x="281.80" y="37.00" font-size="9.9" fill="#d1d4dc" stroke="#d1d4dc" stroke-width="0.25">L</text>
<text x="287.00" y="37.00" font-size="9.9" fill="#2962ff" textLength="45.00" lengthAdjust="spacingAndGlyphs" stroke="#2962ff" stroke-width="0.25">72,945.50</text>
<text x="337.80" y="37.00" font-size="9.9" fill="#d1d4dc" stroke="#d1d4dc" stroke-width="0.25">C</text>
<text x="344.30" y="37.00" font-size="9.9" fill="#2962ff" textLength="43.80" lengthAdjust="spacingAndGlyphs" stroke="#2962ff" stroke-width="0.25">75,047.09</text>
<text x="394.50" y="37.00" font-size="9.9" fill="#2962ff" textLength="40.00" lengthAdjust="spacingAndGlyphs" stroke="#2962ff" stroke-width="0.25">−1,921.12</text>
<text x="438.80" y="37.00" font-size="9.9" fill="#2962ff" textLength="40.50" lengthAdjust="spacingAndGlyphs" stroke="#2962ff" stroke-width="0.25">(−2.50%)</text>
<g transform="translate(8.9,518.9) scale(0.672,0.658)" fill="#d6d6d6"><path d="M14 18H7V7H0V0h14v18z"/><circle cx="20" cy="4" r="4"/><path d="M28 18h-8l7.5-18h8L28 18z"/></g>
<text x="38.10" y="530.70" font-size="16.3" fill="#d8d8d8" font-weight="bold" textLength="95.90" lengthAdjust="spacingAndGlyphs">TradingView</text>
</svg>
</body></html>
